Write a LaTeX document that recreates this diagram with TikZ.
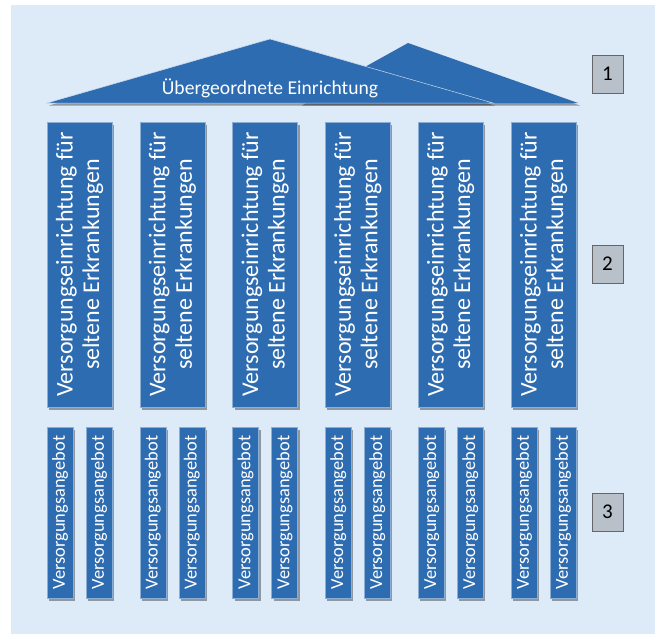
\documentclass[tikz,border=0pt]{standalone}
\usepackage{fontspec}
\setmainfont{Carlito}
\usetikzlibrary{shadows}

\definecolor{houseblue}{RGB}{46,108,177}
\definecolor{paleblue}{RGB}{221,234,247}
\definecolor{levelgray}{RGB}{184,192,202}

\tikzset{
  shade box/.style={drop shadow={shadow xshift=2pt, shadow yshift=-2.5pt, fill=black, opacity=.35}},
  pillar/.style={fill=houseblue, draw=houseblue!55!white, line width=.6pt, shade box,
    minimum width=65pt, minimum height=285pt, inner sep=0pt},
  offer/.style={pillar, minimum width=26pt, minimum height=171pt},
  sidetext/.style={rotate=90, text=white, align=center, inner sep=0pt},
  levelbox/.style={fill=levelgray, draw=black!60, line width=.6pt, minimum width=31pt,
    minimum height=38pt, inner sep=0pt, font=\fontsize{21}{24}\selectfont}
}

\begin{document}
\begin{tikzpicture}[x=1pt, y=-1pt]
  \useasboundingbox (0,0) rectangle (655,634);
  \fill[paleblue] (11,5) rectangle (655,634);

  % roof: back gable first, front gable over it
  \fill[houseblue, shade box] (300,103) -- (408,43) -- (578,103) -- cycle;
  \filldraw[fill=houseblue, draw=white!75!houseblue, line width=.5pt, shade box]
    (47,103) -- (270,39) -- (493,103) -- cycle;
  \node[text=white, font=\fontsize{19.6}{22}\selectfont] (roof) at (270,88) {Übergeordnete Einrichtung};

  % pillars with two offers below each
  \foreach \i in {0,...,5}{
    \pgfmathsetmacro\cx{79.5+92.8*\i}
    \node[pillar] (pillar\i) at (\cx,264.5) {};
    \node[sidetext, font=\fontsize{24}{26.5}\selectfont] at (pillar\i) {Versorgungseinrichtung für\\seltene Erkrankungen};
    \node[offer] (offerA\i) at (\cx-19.5,512.5) {};
    \node[offer] (offerB\i) at (\cx+19.5,512.5) {};
    \node[sidetext, font=\fontsize{18.4}{20}\selectfont] at (offerA\i) {Versorgungsangebot};
    \node[sidetext, font=\fontsize{18.4}{20}\selectfont] at (offerB\i) {Versorgungsangebot};
  }

  % level numbers
  \foreach \n/\y in {1/74,2/264,3/512}{
    \node[levelbox] (level\n) at (607.5,\y) {\n};
  }
\end{tikzpicture}
\end{document}
